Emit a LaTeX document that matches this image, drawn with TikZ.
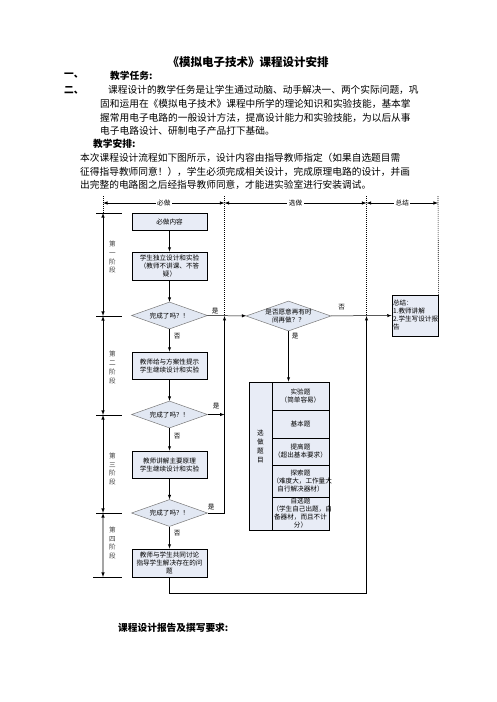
\documentclass[tikz,border=0pt]{standalone}
\usepackage{fontspec}
\setmainfont{Noto Sans CJK SC}
\usetikzlibrary{shapes.geometric,arrows}
\definecolor{boxfill}{RGB}{232,236,246}
\definecolor{diafill}{RGB}{226,232,243}
\definecolor{diaedge}{RGB}{120,120,120}
\newcommand{\flowfont}{\fontsize{6.6}{8}\selectfont}
\newcommand{\bodyfont}{\fontsize{9.7}{12}\selectfont}

\begin{document}
\begin{tikzpicture}[
                   x = 1pt, y = -1pt,
   every node/.style = {inner sep=0pt, font=\flowfont},
       stepbox/.style = {draw, line width=0.9pt, fill=boxfill, minimum width=75pt, align=center},
       cellbox/.style = {draw, line width=0.9pt, fill=boxfill, minimum width=57pt, text width=56pt, align=center},
        decide/.style = {diamond, draw=diaedge, line width=0.5pt, fill=diafill, aspect=2.8,
                         inner sep=-1pt, minimum width=76pt, minimum height=27pt, align=center},
          flow/.style = {draw, line width=0.5pt, -latex},
         guide/.style = {draw, line width=0.6pt, dash pattern=on 1pt off 1pt},
           dim/.style = {draw, line width=0.6pt, latex-latex},
      textline/.style = {anchor=west, font=\bodyfont},
     stagetext/.style = {align=center, font=\fontsize{6.6}{8.7}\selectfont, text=black!75},
                     ]
\useasboundingbox (0,0) rectangle (496,702);

% page text
\node[font=\fontsize{11.5}{14}\selectfont\bfseries] (title) at (248,62) {《模拟电子技术》课程设计安排};
\node[textline, font=\bodyfont\bfseries] (n1) at (64,76) {一、};
\node[textline, font=\bodyfont\bfseries] (h1) at (110,76) {教学任务:};
\node[textline, font=\bodyfont\bfseries] (n2) at (64,90) {二、};
\node[textline] (p1) at (108,90) {课程设计的教学任务是让学生通过动脑、动手解决一、两个实际问题，巩};
\node[textline] (p2) at (100,104) {固和运用在《模拟电子技术》课程中所学的理论知识和实验技能，基本掌};
\node[textline] (p3) at (100,118) {握常用电子电路的一般设计方法，提高设计能力和实验技能，为以后从事};
\node[textline] (p4) at (100,131) {电子电路设计、研制电子产品打下基础。};
\node[textline, font=\bodyfont\bfseries] (h2) at (93,144) {教学安排:};
\node[textline] (q1) at (80,158) {本次课程设计流程如下图所示，设计内容由指导教师指定（如果自选题目需};
\node[textline] (q2) at (80,172) {征得指导教师同意！），学生必须完成相关设计，完成原理电路的设计，并画};
\node[textline] (q3) at (80,185) {出完整的电路图之后经指导教师同意，才能进实验室进行安装调试。};
\node[textline, font=\bodyfont\bfseries] (h3) at (118,628) {课程设计报告及撰写要求:};

% main column
\node[stepbox, minimum height=17pt] (b1) at (169.5,221.5) {必做内容};
\node[stepbox, minimum height=28pt] (b2) at (169.5,266) {学生独立设计和实验\\（教师不讲课、不答\\疑）};
\node[decide] (d1) at (169.5,315.5) {完成了吗？！};
\node[stepbox, minimum height=27pt] (b3) at (169.5,365.5) {教师给与方案性提示\\学生继续设计和实验};
\node[decide] (d2) at (169.5,414.5) {完成了吗？！};
\node[stepbox, minimum height=27pt] (b4) at (169.5,464.5) {教师讲解主要原理\\学生继续设计和实验};
\node[decide] (d3) at (169.5,513) {完成了吗？！};
\node[stepbox, minimum height=28pt] (b5) at (169.5,563) {教师与学生共同讨论\\指导学生解决存在的问\\题};

% optional part
\node[decide, aspect=2.83, minimum width=85pt, minimum height=30pt] (q) at (288.5,316) {是否愿意再有时\\间再做？？};
\node[stepbox, minimum width=46pt, minimum height=41pt, text width=44pt, align=left] (sum) at (415,315.5)
    {总结：\\1.教师讲解\\2.学生写设计报\\告};
\node[cellbox, minimum width=23pt, text width=21pt, minimum height=148pt,
      label={[align=center, font=\fontsize{6.6}{9}\selectfont, yshift=9.5pt]center:选\\做\\题\\目}] (sel) at (260.5,456) {};
\node[cellbox, minimum height=28pt] (c1) at (300.5,396) {实验题\\（简单容易）};
\node[cellbox, minimum height=28pt] (c2) at (300.5,424) {基本题};
\node[cellbox, minimum height=27pt] (c3) at (300.5,451.5) {提高题\\（超出基本要求）};
\node[cellbox, minimum height=32pt] (c4) at (300.5,481) {探索题\\（难度大，工作量大\\自行解决器材）};
\node[cellbox, minimum height=33pt] (c5) at (300.5,513.5) {自选题\\（学生自己出题，自\\备器材，而且不计\\分）};

% guide coordinates
\coordinate (g0) at (103,203);
\coordinate (g1) at (224.5,203);
\coordinate (g2) at (366.5,203);
\coordinate (g3) at (438,203);
\coordinate (j1) at (224.5,316);
\coordinate (j3) at (366.5,316);
\coordinate (r) at (366.5,593);

% top dimension
\draw[guide] (103,196) -- (103,213);
\draw[guide] (224.5,196) -- (j1);
\draw[guide] (366.5,196) -- (j3);
\draw[guide] (438,196) -- (sum.north east);
\draw[dim] (g0) -- node[fill=white, inner xsep=1.5pt, inner ysep=0.5pt] {必做} (g1);
\draw[dim] (g1) -- node[fill=white, inner xsep=1.5pt, inner ysep=0.5pt] {选做} (g2);
\draw[dim] (g2) -- node[fill=white, inner xsep=1.5pt, inner ysep=0.5pt] {总结} (g3);

% stages
\foreach \n/\y in {0/213,1/316,2/415,3/513}
    \draw[line width=0.6pt] (96,\y) -- (122,\y) coordinate[pos=0.27] (s\n);
\draw[line width=0.6pt] (93,577) -- (122,577) coordinate[pos=0.345] (s4);
\foreach \a/\b/\t/\p in {s0/s1/一/0.43, s1/s2/二/0.52, s2/s3/三/0.55, s3/s4/四/0.47}
    \draw[dim] (\a) -- node[stagetext, pos=\p, xshift=9.5pt] {第\\\t\\阶\\段} (\b);

% connectors
\draw[flow] (b1) -- (b2);
\draw[flow] (b2) -- (d1);
\draw[flow] (d1) -- node[pos=0.2, above=1pt] {是} (q);
\draw[flow] (d1) -- node[pos=0.3, right=4pt] {否} (b3);
\draw[flow] (b3) -- (d2);
\draw[flow] (d2) -- node[above=5pt] {是} (d2.east -| j1);
\draw[flow] (d2) -- node[pos=0.35, right=4pt] {否} (b4);
\draw[flow] (b4) -- (d3);
\draw[flow] (d3) -- node[pos=0.2, above=3pt] {是} (d3.east -| j1) -- (j1);
\draw[flow] (d3) -- node[pos=0.28, right=4pt] {否} (b5);
\draw[flow] (q) -- node[pos=0.18, above=5.5pt] {否} (sum);
\draw[flow] (q.south) -- node[pos=0.1, right=3pt] {是} (q.south |- c1.north);
\draw[flow] (b5.south) |- (r) -- (j3);
\end{tikzpicture}
\end{document}
